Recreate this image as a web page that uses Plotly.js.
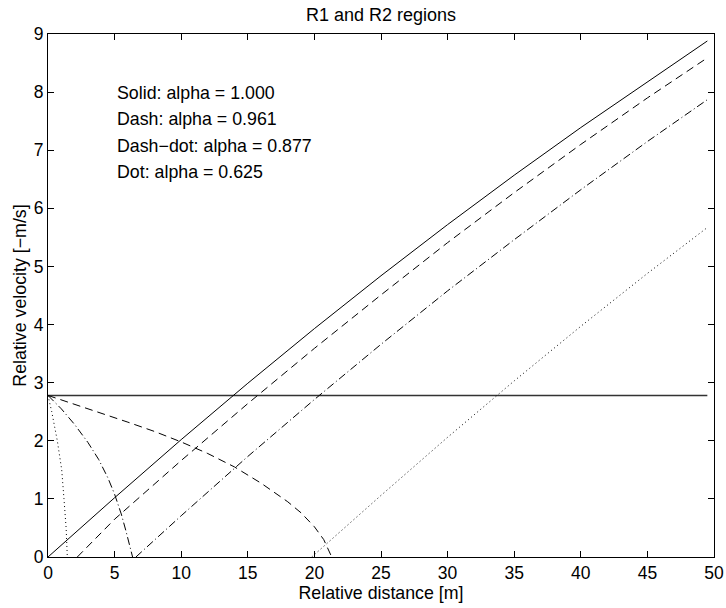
<!DOCTYPE html>
<html>
<head>
<meta charset="utf-8">
<script src="https://cdn.plot.ly/plotly-3.0.1.min.js"></script>
<style>html,body{margin:0;padding:0;background:#fff;}#chart{width:726px;height:608px;}</style>
</head>
<body>
<div id="chart"></div>
<script>
// Rising curves (R2 boundary) for each alpha
const solidX = [0, 5, 10, 15, 20, 25, 30, 35, 40, 45, 49.5];
const solidY = [0, 1.02, 2.02, 2.99, 3.93, 4.84, 5.72, 6.57, 7.39, 8.18, 8.88];

const dashUpX = [2.2, 5, 10, 15, 20, 25, 30, 35, 40, 45, 49.5];
const dashUpY = [0, 0.65, 1.66, 2.64, 3.59, 4.51, 5.41, 6.27, 7.10, 7.90, 8.59];

const dashDotUpX = [6.6, 10, 15, 20, 25, 30, 35, 40, 45, 49.5];
const dashDotUpY = [0, 0.71, 1.73, 2.71, 3.66, 4.58, 5.46, 6.32, 7.15, 7.87];

const dotUpX = [19.8, 25, 30, 35, 40, 45, 49.5];
const dotUpY = [0, 1.06, 2.06, 3.03, 3.97, 4.88, 5.67];

// Falling curves (R1 boundary) for each alpha
const dashDownX = [0, 2, 4, 6, 8, 10, 12, 14, 16, 18, 19, 20, 20.7, 21.3];
const dashDownY = [2.78, 2.63, 2.48, 2.32, 2.16, 1.98, 1.78, 1.55, 1.27, 0.95, 0.76, 0.52, 0.30, 0];

const dashDotDownX = [0, 1, 2, 3, 3.8, 4.5, 5.0, 5.5, 5.85, 6.15, 6.35];
const dashDotDownY = [2.78, 2.55, 2.28, 1.97, 1.68, 1.36, 1.08, 0.74, 0.45, 0.2, 0];

const dotDownX = [0, 0.28, 0.70, 1.03, 1.20, 1.36, 1.45];
const dotDownY = [2.78, 2.5, 2.0, 1.5, 1.0, 0.5, 0];

// Horizontal threshold line
const limitX = [0, 49.5];
const limitY = [2.78, 2.78];

const labels = ["Solid: alpha = 1.000", "Dash: alpha = 0.961", "Dash\u2212dot: alpha = 0.877", "Dot: alpha = 0.625"];
const labelY = [7.98, 7.53, 7.08, 6.63];
const labelX = 5;

const FONT = "Liberation Sans, Arial, Helvetica, sans-serif";

function tr(x, y, dash, color, width) {
  return {x: x, y: y, type: "scatter", mode: "lines", hoverinfo: "skip",
          line: {color: color || "#000", width: width || 1, dash: dash}};
}

const DASH = "8px,5px";
const DASHDOT = "8px,3px,1px,3px";
const DOT = "1px,3px";

const data = [
  tr(limitX, limitY, "solid", "#333", 1.4),
  tr(solidX, solidY, "solid"),
  tr(dashUpX, dashUpY, DASH),
  tr(dashDotUpX, dashDotUpY, DASHDOT),
  tr(dotUpX, dotUpY, DOT),
  tr(dashDownX, dashDownY, DASH),
  tr(dashDotDownX, dashDotDownY, DASHDOT),
  tr(dotDownX, dotDownY, DOT)
];

const annotations = labels.map((t, i) => ({
  text: t, x: labelX, y: labelY[i], xref: "x", yref: "y",
  xanchor: "left", yanchor: "middle", showarrow: false,
  font: {family: FONT, size: 17.8, color: "#000"}
}));

const axisCommon = {
  showline: true, linecolor: "#000", linewidth: 1, mirror: "ticks",
  ticks: "inside", ticklen: 6, tickcolor: "#000", tickwidth: 1,
  showgrid: false, zeroline: false, fixedrange: true,
  tickfont: {family: FONT, size: 17.5, color: "#000"}
};

const layout = {
  width: 726, height: 608,
  paper_bgcolor: "#fff", plot_bgcolor: "#fff",
  showlegend: false,
  margin: {l: 48, r: 12, t: 34, b: 51},
  title: {text: "R1 and R2 regions", x: 0.5, xref: "paper", xanchor: "center",
          y: 1 - 15 / 608, yref: "container", yanchor: "middle",
          font: {family: FONT, size: 18, color: "#000"}},
  xaxis: Object.assign({}, axisCommon, {
    range: [0, 50], dtick: 5, tick0: 0,
    title: {text: "Relative distance [m]", standoff: 2, font: {family: FONT, size: 17.8, color: "#000"}}
  }),
  yaxis: Object.assign({}, axisCommon, {
    range: [0, 9], dtick: 1, tick0: 0,
    title: {text: "Relative velocity [\u2212m/s]", standoff: 2, font: {family: FONT, size: 17.8, color: "#000"}}
  }),
  annotations: annotations
};

Plotly.newPlot("chart", data, layout, {displayModeBar: false, staticPlot: true});
</script>
</body>
</html>
